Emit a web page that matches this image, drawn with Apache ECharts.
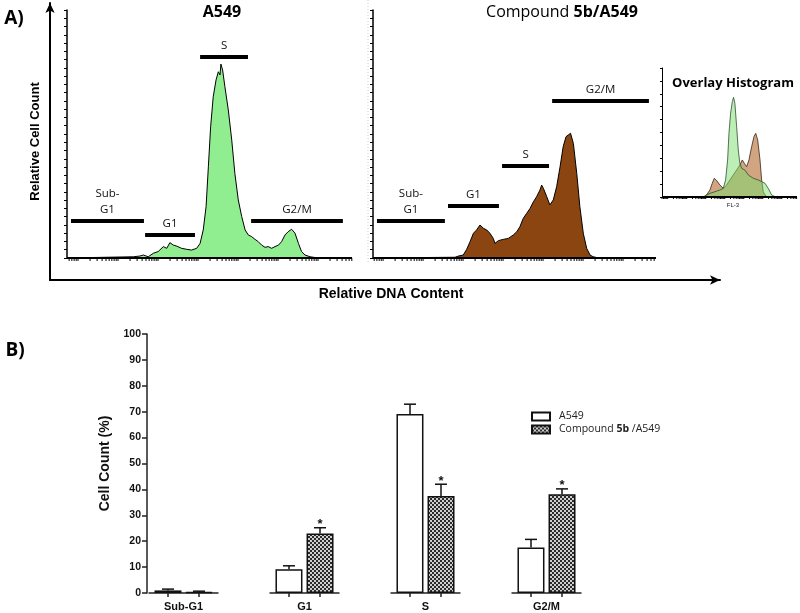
<!DOCTYPE html>
<html>
<head>
<meta charset="utf-8">
<script src="https://cdn.jsdelivr.net/npm/echarts@6/dist/echarts.min.js"></script>
<style>html,body{margin:0;padding:0;background:#fff}#main{width:800px;height:613px}</style>
</head>
<body>
<div id="main"></div>
<script>
// ---------- Panel A: histograms (relative DNA content vs relative cell count) ----------
const a549X = [0,23.3,25.6,26.8,28.5,30.3,32.0,33.8,35.0,36.1,37.3,38.5,40.2,42.0,43.7,45.5,46.7,47.8,48.8,49.6,50.4,51.3,52.3,53.1,53.7,54.0,54.6,55.4,56.6,57.8,58.9,60.1,61.3,62.5,63.6,64.8,66.0,67.1,68.3,69.5,70.6,71.8,73.0,74.2,75.3,76.5,77.6,78.8,80.0,81.2,82.3,83.5,85.3,87.0,88.8];
const a549Y = [0,0.5,0.8,1.2,0.5,1.9,2.6,4.6,3.9,6.2,5.2,4.8,3.9,3.5,3.2,3.9,5.9,11.3,20.7,36.8,52.9,65.0,71.8,75.1,73.8,78.2,75.8,69.1,59.7,47.6,34.1,23.4,16.7,11.3,9.3,8.6,7.5,6.6,5.2,4.3,4.6,3.9,4.6,5.2,6.6,9.3,10.6,11.6,10.0,5.9,2.6,1.2,0.5,0.2,0];

const cpdX = [0.1,29.0,30.2,31.9,33.1,34.3,35.5,36.6,37.8,39.0,40.2,41.3,42.5,43.1,44.3,46.0,47.8,49.6,50.8,51.9,53.1,54.3,55.5,56.7,57.8,59.0,59.6,60.2,61.4,62.5,63.1,63.7,64.9,66.1,67.2,68.2,69.0,69.8,70.8,72.0,73.1,74.3,75.5,76.7,77.8,79.0,80.2];
const cpdY = [0,0.3,0.8,1.2,3.5,6.6,10.0,11.3,13.3,12.0,11.3,10.0,7.9,5.9,7.0,7.5,7.9,9.3,10.6,12.6,16.0,18.0,20.0,22.7,24.7,27.4,29.4,28.1,24.7,21.4,20.7,23.4,28.8,36.8,44.9,48.9,49.6,50.3,46.2,34.1,20.7,10.0,3.9,1.2,0.5,0.2,0];

// overlay histogram
const ovGreenX = [30.0,31.8,35.5,39.2,42.9,45.4,47.1,48.6,49.6,50.8,52.1,53.0,54.0,55.3,56.5,57.7,59.0,61.4,63.9,67.6,71.3,73.8,76.3,78.7,81.2,83.7,86.0];
const ovGreenY = [0,0.8,2.8,4.1,5.4,6.7,13.2,28.7,49.4,64.9,73.9,77.3,72.6,54.5,36.4,26.1,22.2,20.9,17.1,14.5,13.2,11.9,10.6,6.7,1.6,0.3,0];
const ovBrownX = [31.0,33.0,35.5,37.2,38.7,40.5,42.9,45.4,47.9,50.3,52.8,55.3,57.7,59.5,61.0,62.7,64.4,66.4,68.1,69.4,70.9,72.6,73.8,75.0,76.3,78.0];
const ovBrownY = [0,1.6,5.4,10.6,14.5,12.7,9.3,6.7,9.3,13.2,17.1,20.9,24.8,28.7,26.1,23.5,28.7,39.0,46.7,49.4,44.2,28.7,13.2,4.1,1.6,0];

// gates (phase markers)
const gateNames = ['Sub-\nG1', 'G1', 'S', 'G2/M'];
const gateA549From = [1.4, 27.4, 46.7, 64.6];
const gateA549To   = [27.0, 44.9, 63.5, 96.8];
const gateA549Y    = [14.9, 9.3, 81.0, 14.9];
const gateCpdFrom  = [1.4, 26.5, 45.6, 63.3];
const gateCpdTo    = [25.4, 44.5, 62.2, 97.5];
const gateCpdY     = [14.9, 21.0, 37.1, 63.3];

// ---------- Panel B: bar chart ----------
const phases  = ['Sub-G1', 'G1', 'S', 'G2/M'];
const a549Pct = [1.0, 9.2, 69.1, 17.6];
const a549Err = [0.5, 1.3, 3.8, 3.1];
const cpdPct  = [0.3, 23.0, 37.5, 38.1];
const cpdErr  = [0.4, 2.2, 4.5, 2.1];
const cpdSig  = [false, true, true, true];

// log-decade tick values for the FL axis
const logTicks = [];
for (let d = -1; d <= 7; d++) for (let k = 1; k <= 9; k++) logTicks.push(+(k * Math.pow(10, d)).toPrecision(3));

const SANS = '"Liberation Sans", Arial, sans-serif';
const CAL = '"Open Sans", "Noto Sans", sans-serif';

// checker pattern
const pc = document.createElement('canvas');
pc.width = 4; pc.height = 4;
const pctx = pc.getContext('2d');
pctx.fillStyle = '#cfcfcf'; pctx.fillRect(0, 0, 4, 4);
pctx.fillStyle = '#2b2b2b'; pctx.fillRect(0, 0, 2, 2); pctx.fillRect(2, 2, 2, 2);
const checker = { image: pc, repeat: 'repeat' };

const zip = (xs, ys) => xs.map((x, i) => [x, ys[i]]);

function logAxis(gi, min, max) {
  return { type: 'log', gridIndex: gi, position: 'top', min: min, max: max, logBase: 10, show: false,
    axisLine: { show: false }, axisTick: { show: false }, axisLabel: { show: false }, splitLine: { show: false } };
}
function hiddenVal(gi) {
  return { type: 'value', gridIndex: gi, position: 'bottom', min: 0, max: 100, show: false,
    axisLine: { show: false }, axisTick: { show: false }, axisLabel: { show: false }, splitLine: { show: false } };
}
function histY(gi, interval, tickLen, w) {
  return { type: 'value', gridIndex: gi, position: 'left', min: 0, max: 100, interval: interval,
    axisLine: { show: true, onZero: false, lineStyle: { color: '#000', width: w } },
    axisTick: { show: true, length: tickLen, lineStyle: { color: '#000', width: 1 } },
    axisLabel: { show: false }, splitLine: { show: false } };
}
// baseline of a histogram panel, with log-decade ticks below it
function tickSeries(xi, yi, min, max, len, lw) {
  return { type: 'custom', xAxisIndex: xi, yAxisIndex: yi, clip: false, silent: true, z: 10,
    data: logTicks.filter(v => v >= min && v <= max).map(v => [v, 0]),
    renderItem: (p, api) => {
      const c = api.coord([api.value(0), 0]);
      const cs = p.coordSys;
      const bottom = cs.y + cs.height;
      return { type: 'group', children: [
        { type: 'rect', shape: { x: cs.x, y: bottom - lw / 2, width: cs.width, height: lw }, style: { fill: '#000' } },
        { type: 'rect', shape: { x: c[0] - 0.5, y: bottom, width: 1, height: len }, style: { fill: '#000' } }
      ] };
    } };
}
function gateSeries(xi, yi, from, to, ys) {
  return { type: 'custom', xAxisIndex: xi, yAxisIndex: yi, clip: false, silent: true,
    encode: { x: [0, 1], y: 2 },
    data: from.map((f, i) => [f, to[i], ys[i]]),
    renderItem: (p, api) => {
      const a = api.coord([api.value(0), api.value(2)]);
      const b = api.coord([api.value(1), api.value(2)]);
      return { type: 'group', children: [
        { type: 'line', shape: { x1: a[0], y1: a[1], x2: b[0], y2: b[1] }, style: { stroke: '#000', lineWidth: 4 } },
        { type: 'text', x: (a[0] + b[0]) / 2, y: a[1] - 3,
          style: { text: gateNames[p.dataIndex], fontSize: 11.5, fontFamily: CAL, fill: '#111', align: 'center', verticalAlign: 'bottom', lineHeight: 16 } }
      ] };
    } };
}
function errSeries(vals, errs, off, sig) {
  return { type: 'custom', xAxisIndex: 7, yAxisIndex: 4, clip: false, silent: true, z: 5,
    data: vals.map((v, i) => [i, v, errs[i]]),
    renderItem: (p, api) => {
      const c = api.coord([api.value(0), api.value(1)]);
      const t = api.coord([api.value(0), api.value(1) + api.value(2)]);
      const x = c[0] + off;
      const ch = [
        { type: 'line', shape: { x1: x, y1: c[1], x2: x, y2: t[1] }, style: { stroke: '#111', lineWidth: 1.5 } },
        { type: 'line', shape: { x1: x - 6, y1: t[1], x2: x + 6, y2: t[1] }, style: { stroke: '#111', lineWidth: 1.5 } }
      ];
      if (sig && sig[p.dataIndex]) ch.push({ type: 'text', x: x, y: t[1] - 3,
        style: { text: '*', fontSize: 13, fontWeight: 'bold', fontFamily: SANS, fill: '#111', align: 'center', verticalAlign: 'middle' } });
      return { type: 'group', children: ch };
    } };
}

const chart = echarts.init(document.getElementById('main'), null, { renderer: 'canvas' });
const option = {
  backgroundColor: '#fff',
  animation: false,
  grid: [
    { left: 50, top: 3, width: 670, height: 277 },
    { left: 67, top: 10, width: 285, height: 248 },
    { left: 373, top: 10, width: 283, height: 248 },
    { left: 662, top: 68, width: 135, height: 129 },
    { left: 123, top: 334, width: 484, height: 259 }
  ],
  xAxis: [
    { type: 'value', gridIndex: 0, position: 'bottom', min: 0, max: 1,
      axisLine: { show: true, onZero: false, symbol: ['none', 'arrow'], symbolSize: [7, 10], lineStyle: { color: '#000', width: 2 } },
      axisTick: { show: false }, axisLabel: { show: false }, splitLine: { show: false },
      name: 'Relative DNA Content', nameLocation: 'middle', nameGap: 7,
      nameTextStyle: { fontFamily: SANS, fontWeight: 'bold', fontSize: 14, color: '#000', padding: [0, 0, 0, 12] } },
    hiddenVal(1),
    logAxis(1, 0.53, 7.08e6),
    hiddenVal(2),
    logAxis(2, 0.56, 6.68e6),
    hiddenVal(3),
    logAxis(3, 0.5, 6.3e6),
    { type: 'category', gridIndex: 4, data: phases,
      axisLine: { show: false }, axisTick: { show: false },
      axisLabel: { fontFamily: SANS, fontWeight: 'bold', fontSize: 11, color: '#111', margin: 8 } }
  ],
  yAxis: [
    { type: 'value', gridIndex: 0, position: 'left', min: 0, max: 1,
      axisLine: { show: true, onZero: false, symbol: ['none', 'arrow'], symbolSize: [7, 10], lineStyle: { color: '#000', width: 2 } },
      axisTick: { show: false }, axisLabel: { show: false }, splitLine: { show: false },
      name: 'Relative Cell Count', nameLocation: 'middle', nameGap: 8,
      nameTextStyle: { fontFamily: SANS, fontWeight: 'bold', fontSize: 13, color: '#000' } },
    histY(1, 10 / 3, 3, 1.5),
    histY(2, 10 / 3, 3, 1.5),
    histY(3, 10, 2, 1),
    { type: 'value', gridIndex: 4, position: 'left', min: 0, max: 100, interval: 10, offset: -24,
      axisLine: { show: true, onZero: false, lineStyle: { color: '#222', width: 1.5 } },
      axisTick: { show: true, length: 5, lineStyle: { color: '#222', width: 1.5 } },
      axisLabel: { fontFamily: SANS, fontWeight: 'bold', fontSize: 10.5, color: '#111', margin: 6 },
      splitLine: { show: false },
      name: 'Cell Count (%)', nameLocation: 'middle', nameGap: 29,
      nameTextStyle: { fontFamily: SANS, fontWeight: 'bold', fontSize: 14, color: '#111' } }
  ],
  legend: {
    data: [{ name: 'A549', icon: 'rect' }, { name: 'Compound 5b /A549', icon: 'rect' }],
    orient: 'vertical', left: 526, top: 406,
    itemWidth: 18, itemHeight: 8, itemGap: 2, selectedMode: false,
    textStyle: { fontFamily: CAL, fontSize: 10.5, color: '#222', padding: [0, 0, 0, 4],
      rich: { n: { fontFamily: CAL, fontSize: 10.5, color: '#222' }, b: { fontFamily: CAL, fontSize: 10.5, fontWeight: 'bold', color: '#222' } } },
    formatter: name => name === 'A549' ? '{n|A549}' : '{n|Compound }{b|5b}{n| /A549}'
  },
  graphic: [
    { type: 'text', x: 14, y: 19, style: { text: 'A)', fontFamily: CAL, fontWeight: 'bold', fontSize: 19, fill: '#000', align: 'center', verticalAlign: 'middle' } },
    { type: 'text', x: 15, y: 351, style: { text: 'B)', fontFamily: CAL, fontWeight: 'bold', fontSize: 19, fill: '#000', align: 'center', verticalAlign: 'middle' } },
    { type: 'text', x: 222, y: 12, style: { text: 'A549', fontFamily: CAL, fontWeight: 'bold', fontSize: 16, fill: '#000', align: 'center', verticalAlign: 'middle' } },
    { type: 'text', x: 562, y: 12, style: { text: '{n|Compound }{b|5b/A549}', align: 'center', verticalAlign: 'middle',
      rich: { n: { fontFamily: CAL, fontSize: 16, fill: '#000' }, b: { fontFamily: CAL, fontSize: 16, fontWeight: 'bold', fill: '#000' } } } },
    { type: 'text', x: 733, y: 83, style: { text: 'Overlay Histogram', fontFamily: CAL, fontWeight: 'bold', fontSize: 13, fill: '#000', align: 'center', verticalAlign: 'middle' } },
    { type: 'text', x: 733, y: 205, style: { text: 'FL-3', fontFamily: SANS, fontSize: 6, fill: '#222', align: 'center', verticalAlign: 'middle' } },
    { type: 'line', shape: { x1: 368, y1: 0, x2: 368, y2: 262 }, style: { stroke: '#cfcfcf', lineWidth: 1, lineDash: [1, 2] } }
  ],
  series: [
    { type: 'line', name: 'hist-a549', xAxisIndex: 1, yAxisIndex: 1, data: zip(a549X, a549Y), showSymbol: false, silent: true,
      lineStyle: { color: '#000', width: 1 }, areaStyle: { color: '#90ee90', opacity: 1 }, z: 3 },
    tickSeries(2, 1, 0.53, 7.08e6, 3, 1.6),
    gateSeries(1, 1, gateA549From, gateA549To, gateA549Y),
    { type: 'line', name: 'hist-cpd', xAxisIndex: 3, yAxisIndex: 2, data: zip(cpdX, cpdY), showSymbol: false, silent: true,
      lineStyle: { color: '#000', width: 1 }, areaStyle: { color: '#8a4510', opacity: 1 }, z: 3 },
    tickSeries(4, 2, 0.56, 6.68e6, 3, 1.6),
    gateSeries(3, 2, gateCpdFrom, gateCpdTo, gateCpdY),
    { type: 'line', name: 'ov-brown', xAxisIndex: 5, yAxisIndex: 3, data: zip(ovBrownX, ovBrownY), showSymbol: false, silent: true,
      lineStyle: { color: '#3b2612', width: 0.8 }, areaStyle: { color: '#b8743f', opacity: 0.65 }, z: 3 },
    { type: 'line', name: 'ov-green', xAxisIndex: 5, yAxisIndex: 3, data: zip(ovGreenX, ovGreenY), showSymbol: false, silent: true,
      lineStyle: { color: '#2f4f2f', width: 0.8 }, areaStyle: { color: '#79dd6e', opacity: 0.5 }, z: 4 },
    tickSeries(6, 3, 0.5, 6.3e6, 2, 1),
    // bar-chart group baselines with ticks
    { type: 'custom', xAxisIndex: 7, yAxisIndex: 4, clip: false, silent: true, z: 1,
      data: phases.map((p, i) => [i, 0]),
      renderItem: (p, api) => {
        const c = api.coord([api.value(0), 0]);
        return { type: 'group', children: [
          { type: 'line', shape: { x1: c[0] - 35, y1: c[1], x2: c[0] + 35, y2: c[1] }, style: { stroke: '#222', lineWidth: 1.5 } },
          { type: 'line', shape: { x1: c[0] - 15.5, y1: c[1], x2: c[0] - 15.5, y2: c[1] + 4 }, style: { stroke: '#222', lineWidth: 1.5 } },
          { type: 'line', shape: { x1: c[0] + 15.5, y1: c[1], x2: c[0] + 15.5, y2: c[1] + 4 }, style: { stroke: '#222', lineWidth: 1.5 } }
        ] };
      } },
    { type: 'bar', name: 'A549', xAxisIndex: 7, yAxisIndex: 4, data: a549Pct, barWidth: 27, barGap: '15%',
      itemStyle: { color: '#fff', borderColor: '#111', borderWidth: 1.5 }, z: 3 },
    { type: 'bar', name: 'Compound 5b /A549', xAxisIndex: 7, yAxisIndex: 4, data: cpdPct, barWidth: 27, barGap: '15%',
      itemStyle: { color: checker, borderColor: '#111', borderWidth: 1.5 }, z: 3 },
    errSeries(a549Pct, a549Err, -15.5, null),
    errSeries(cpdPct, cpdErr, 15.5, cpdSig)
  ]
};
chart.setOption(option);
</script>
</body>
</html>
